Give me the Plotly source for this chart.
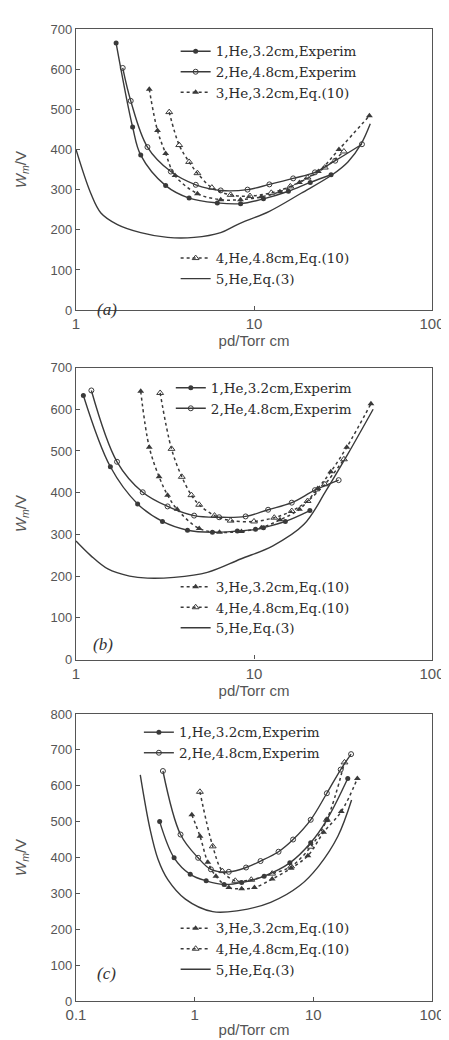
import plotly.graph_objects as go

# ---------------- data ----------------
# Panel (a)
a_s1_x = [1.68, 2.08, 2.31, 3.19, 4.32, 6.22, 8.41, 11.3, 15.6, 20.7, 27.1]
a_s1_y = [665, 456, 386, 310, 279, 267, 265, 277, 296, 318, 337]
a_s2_x = [1.83, 2.03, 2.52, 3.41, 4.71, 6.5, 9.2, 12.2, 16.6, 22, 28.6, 40.4]
a_s2_y = [603, 521, 406, 345, 312, 298, 300, 313, 328, 343, 372, 413]
a_s3_x = [2.58, 2.87, 3.19, 3.6, 4.81, 6.5, 8.4, 11, 14, 18, 23, 30, 44.5]
a_s3_y = [550, 447, 390, 335, 290, 275, 275, 282, 295, 318, 345, 400, 484]
a_s4_x = [3.34, 3.8, 4.32, 4.81, 5.8, 7.39, 9.5, 12.5, 16, 20, 25, 32]
a_s4_y = [493, 411, 369, 341, 305, 287, 284, 292, 308, 330, 355, 395]
a_s5_x = [1, 1.21, 1.38, 1.71, 2.31, 3.27, 4.61, 6.5, 8.06, 12.2, 18.4, 27.5, 33.7, 40, 45]
a_s5_y = [400, 291, 242, 213, 193, 181, 181, 193, 213, 246, 291, 337, 369, 414, 464]

# Panel (b)
b_s1_x = [1.10, 1.56, 2.22, 3.06, 4.23, 5.84, 8.06, 10.2, 11.3, 15, 20.6]
b_s1_y = [633, 462, 373, 331, 310, 305, 308, 312, 316, 331, 357]
b_s2_x = [1.22, 1.70, 2.37, 3.27, 4.61, 6.37, 8.97, 12, 16.3, 22, 29.9]
b_s2_y = [645, 474, 401, 367, 345, 341, 343, 359, 376, 406, 430]
b_s3_x = [2.31, 2.58, 2.93, 3.27, 3.7, 4.92, 6.4, 8.5, 11, 14, 18, 22.8, 27, 33.2, 45.4]
b_s3_y = [643, 509, 438, 394, 360, 314, 305, 307, 316, 335, 360, 410, 450, 509, 613]
b_s4_x = [2.97, 3.44, 3.93, 4.45, 4.92, 6, 7.39, 10, 13, 16.3, 20, 25, 32]
b_s4_y = [639, 505, 438, 394, 371, 345, 333, 331, 340, 356, 380, 420, 480]
b_s5_x = [1, 1.21, 1.51, 2, 2.52, 3.56, 5.47, 8.41, 12.7, 19.1, 25.5, 33.7, 46.7]
b_s5_y = [284, 249, 217, 200, 195, 197, 209, 241, 272, 324, 406, 493, 600]

# Panel (c)
c_s1_x = [0.507, 0.671, 0.918, 1.25, 1.77, 2.49, 3.85, 6.34, 9.5, 13, 19.5]
c_s1_y = [500, 399, 353, 335, 325, 330, 348, 385, 441, 505, 620]
c_s2_x = [0.54, 0.76, 1.07, 1.37, 1.94, 2.71, 3.59, 5.09, 6.75, 9.5, 13, 17, 20.8]
c_s2_y = [641, 464, 399, 367, 360, 372, 390, 416, 450, 505, 579, 645, 688]
c_s3_x = [0.946, 1.11, 1.29, 1.51, 1.94, 2.49, 3.19, 4.5, 6.5, 9, 12.2, 17.2, 23.5]
c_s3_y = [519, 459, 387, 348, 316, 313, 316, 340, 370, 405, 470, 528, 620]
c_s4_x = [1.107, 1.42, 1.71, 2.2, 3, 4.5, 6.5, 9.5, 13, 18.3]
c_s4_y = [583, 431, 362, 335, 338, 355, 375, 430, 505, 665]
c_s5_x = [0.348, 0.42, 0.491, 0.592, 0.835, 1.42, 2.34, 4.37, 7.65, 11.1, 16.1, 21]
c_s5_y = [630, 480, 395, 339, 284, 249, 252, 275, 321, 376, 459, 560]

series_names = ["1,He,3.2cm,Experim", "2,He,4.8cm,Experim", "3,He,3.2cm,Eq.(10)",
                "4,He,4.8cm,Eq.(10)", "5,He,Eq.(3)"]
panel_labels = ["(a)", "(b)", "(c)"]
x_title = "pd/Torr cm"
y_title = "<i>W<sub>m</sub></i>/V"

# ---------------- layout helpers ----------------
W, H = 449, 1040
ML, MR, MT, MB = 68, 13, 20, 37
PW, PH = W - ML - MR, H - MT - MB


def pxx(px):
    return (px - ML) / PW


def pxy(py):
    return (H - MB - py) / PH


INK = "#3a3a3a"
styles = [
    dict(mode="lines+markers", line=dict(color=INK, width=1.4),
         marker=dict(symbol="circle", size=5, color=INK)),
    dict(mode="lines+markers", line=dict(color=INK, width=1.4),
         marker=dict(symbol="circle-open", size=5, color=INK, line=dict(width=1))),
    dict(mode="lines+markers", line=dict(color=INK, width=1.5, dash="dot"),
         marker=dict(symbol="triangle-up", size=6, color=INK)),
    dict(mode="lines+markers", line=dict(color=INK, width=1.5, dash="dot"),
         marker=dict(symbol="triangle-up-open", size=6, color=INK, line=dict(width=1))),
    dict(mode="lines", line=dict(color=INK, width=1.4)),
]

panels = [
    ([(a_s1_x, a_s1_y), (a_s2_x, a_s2_y), (a_s3_x, a_s3_y), (a_s4_x, a_s4_y), (a_s5_x, a_s5_y)],
     ["legend", "legend", "legend", "legend2", "legend2"]),
    ([(b_s1_x, b_s1_y), (b_s2_x, b_s2_y), (b_s3_x, b_s3_y), (b_s4_x, b_s4_y), (b_s5_x, b_s5_y)],
     ["legend3", "legend3", "legend4", "legend4", "legend4"]),
    ([(c_s1_x, c_s1_y), (c_s2_x, c_s2_y), (c_s3_x, c_s3_y), (c_s4_x, c_s4_y), (c_s5_x, c_s5_y)],
     ["legend5", "legend5", "legend6", "legend6", "legend6"]),
]

# plot-area pixel boxes (top, bottom)
boxes = [(21, 305), (363, 658), (713, 1003)]
xranges = [[0, 2], [0, 2], [-1, 2]]
yranges = [[0, 700], [0, 700], [0, 800]]
xticks = [[1, 10, 100], [1, 10, 100], [0.1, 1, 10, 100]]

fig = go.Figure()
for p, (data, legs) in enumerate(panels):
    ax = "" if p == 0 else str(p + 1)
    for i, (xs, ys) in enumerate(data):
        fig.add_trace(go.Scatter(x=xs, y=ys, name=series_names[i], legend=legs[i],
                                 xaxis="x" + ax, yaxis="y" + ax,
                                 line_shape="spline", **styles[i]))

axis_common = dict(showgrid=False, zeroline=False, showline=True, mirror=True,
                   linecolor="#555", linewidth=1.3, ticks="inside", ticklen=4,
                   tickcolor="#555")
for p in range(3):
    ax = "" if p == 0 else str(p + 1)
    top, bot = boxes[p]
    fig.update_layout(**{
        "xaxis" + ax: dict(axis_common, type="log", range=xranges[p],
                           tickvals=xticks[p], ticktext=[("%g" % v) for v in xticks[p]],
                           tickfont=dict(family="Liberation Sans", size=15, color="#555"),
                           title=dict(text=x_title, standoff=2,
                                      font=dict(family="Liberation Sans", size=15, color="#555")),
                           anchor="y" + ax, domain=[0, 1]),
        "yaxis" + ax: dict(axis_common, range=yranges[p], dtick=100,
                           tickfont=dict(family="Liberation Sans", size=13, color="#555"),
                           title=dict(text=y_title, standoff=20,
                                      font=dict(family="Liberation Sans", size=15, color="#555")),
                           anchor="x" + ax, domain=[pxy(bot), pxy(top)]),
    })

legend_pos = {  # left pixel, top pixel
    "legend": (171, 28), "legend2": (171, 237),
    "legend3": (166, 368), "legend4": (171, 569),
    "legend5": (133, 716), "legend6": (171, 914),
}
leg_font = dict(family="DejaVu Serif", size=13.5, color="#2a2a2a")
for name, (lx, ly) in legend_pos.items():
    fig.update_layout(**{name: dict(x=pxx(lx), y=pxy(ly), xanchor="left", yanchor="top",
                                    bgcolor="rgba(0,0,0,0)", borderwidth=0,
                                    font=leg_font, itemwidth=30, tracegroupgap=0)})

label_pos = [(88, 293), (84, 643), (88, 987)]
for p, (lx, ly) in enumerate(label_pos):
    fig.add_annotation(x=pxx(lx), y=pxy(ly), xref="paper", yref="paper",
                       text="<i>" + panel_labels[p] + "</i>", showarrow=False,
                       font=dict(family="Liberation Serif", size=17, color="#333"))

fig.update_layout(width=W, height=H, margin=dict(l=ML, r=MR, t=MT, b=MB),
                  paper_bgcolor="white", plot_bgcolor="white", showlegend=True)

fig.write_html("out.html")
